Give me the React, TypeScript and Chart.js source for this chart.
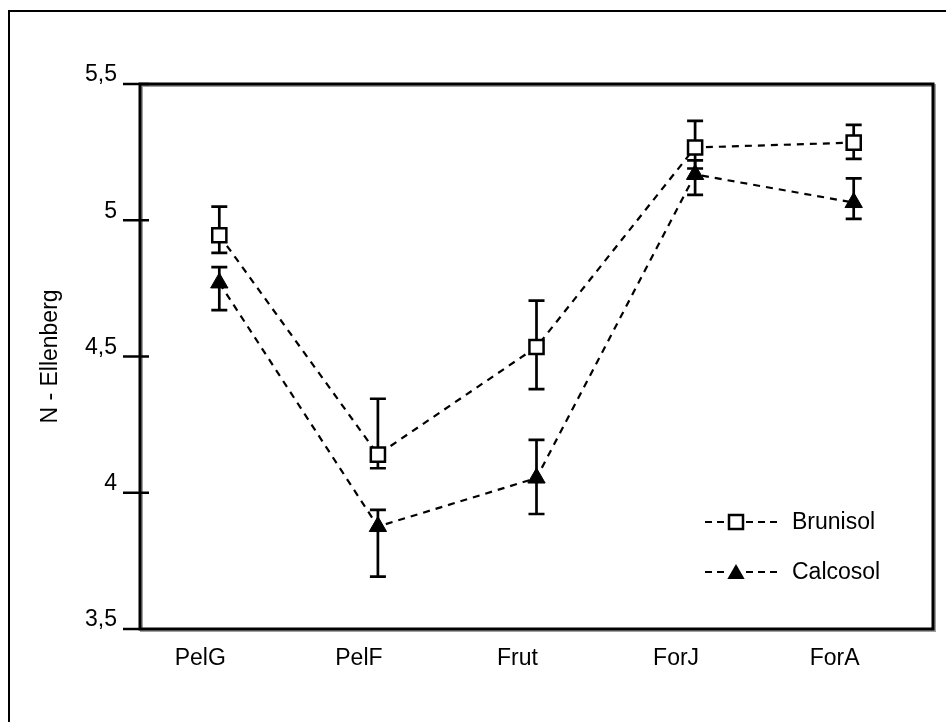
import React, { useEffect, useRef } from 'react';
import { Chart, registerables } from 'chart.js';

Chart.register(...registerables);

const categories = ['PelG', 'PelF', 'Frut', 'ForJ', 'ForA'];
const seriesNames = ['Brunisol', 'Calcosol'];

const brunisolMean = [4.945, 4.14, 4.535, 5.267, 5.285];
const brunisolLow = [4.88, 4.09, 4.38, 5.19, 5.225];
const brunisolHigh = [5.05, 4.345, 4.705, 5.365, 5.35];

const calcosolMean = [4.77, 3.876, 4.054, 5.168, 5.065];
const calcosolLow = [4.67, 3.692, 3.922, 5.093, 5.005];
const calcosolHigh = [4.828, 3.937, 4.194, 5.22, 5.154];

const yTickLabels = ['3,5', '4', '4,5', '5', '5,5'];
const yTitle = 'N - Ellenberg';

const FONT = '"Liberation Sans", Arial, Helvetica, sans-serif';

const errorBars = [
  { low: brunisolLow, high: brunisolHigh },
  { low: calcosolLow, high: calcosolHigh },
];

function drawTriangle(ctx: CanvasRenderingContext2D, x: number, y: number, r: number) {
  ctx.beginPath();
  ctx.moveTo(x, y - r);
  ctx.lineTo(x + Math.sin(Math.PI * 2 / 3) * r, y + r / 2);
  ctx.lineTo(x - Math.sin(Math.PI * 2 / 3) * r, y + r / 2);
  ctx.closePath();
}

const framePlugin = {
  id: 'framePlugin',
  beforeDatasetsDraw(chart: any) {
    const ctx: CanvasRenderingContext2D = chart.ctx;
    const { left, top, right, bottom } = chart.chartArea;
    ctx.save();
    // outer frame
    ctx.strokeStyle = '#000';
    ctx.lineWidth = 2;
    ctx.beginPath();
    ctx.moveTo(9, chart.height);
    ctx.lineTo(9, 11);
    ctx.lineTo(chart.width, 11);
    ctx.stroke();
    // plot box shadow + box
    ctx.strokeStyle = '#a0a0a0';
    ctx.lineWidth = 3;
    ctx.strokeRect(left + 1.5, top + 1.5, right - left, bottom - top);
    ctx.strokeStyle = '#000';
    ctx.strokeRect(left, top, right - left, bottom - top);
    // y ticks
    const ys = chart.scales.y;
    ctx.lineWidth = 2.5;
    ys.ticks.forEach((_t: any, i: number) => {
      const py = ys.getPixelForTick(i);
      ctx.beginPath();
      ctx.moveTo(left - 17, py);
      ctx.lineTo(i === 0 ? left : left + 9, py);
      ctx.stroke();
    });
    // error bars
    const yScale = chart.scales.y;
    ctx.lineWidth = 2.7;
    ctx.setLineDash([]);
    errorBars.forEach((eb, di) => {
      const meta = chart.getDatasetMeta(di);
      meta.data.forEach((pt: any, j: number) => {
        const x = pt.x;
        const yl = yScale.getPixelForValue(eb.low[j]);
        const yh = yScale.getPixelForValue(eb.high[j]);
        ctx.beginPath();
        ctx.moveTo(x, yl);
        ctx.lineTo(x, yh);
        ctx.moveTo(x - 8, yl);
        ctx.lineTo(x + 8, yl);
        ctx.moveTo(x - 8, yh);
        ctx.lineTo(x + 8, yh);
        ctx.stroke();
      });
    });
    ctx.restore();
  },
  afterDatasetsDraw(chart: any) {
    const ctx: CanvasRenderingContext2D = chart.ctx;
    const { right, bottom } = chart.chartArea;
    ctx.save();
    const rows = [bottom - 107, bottom - 57];
    const x0 = right - 228;
    const mx = right - 197;
    const x1 = right - 155;
    const tx = right - 141;
    chart.data.datasets.forEach((ds: any, i: number) => {
      const y = rows[i];
      ctx.strokeStyle = '#000';
      ctx.lineWidth = 2;
      ctx.setLineDash([7, 5]);
      ctx.beginPath();
      ctx.moveTo(x0, y);
      ctx.lineTo(mx - 9, y);
      ctx.stroke();
      ctx.beginPath();
      ctx.moveTo(mx + 10, y);
      ctx.lineTo(x1, y);
      ctx.stroke();
      ctx.setLineDash([]);
      if (i === 0) {
        ctx.fillStyle = '#fff';
        ctx.lineWidth = 2.5;
        ctx.fillRect(mx - 7, y - 7, 14, 14);
        ctx.strokeRect(mx - 7, y - 7, 14, 14);
      } else {
        ctx.fillStyle = '#000';
        drawTriangle(ctx, mx, y + 2, 10);
        ctx.fill();
      }
      ctx.fillStyle = '#000';
      ctx.font = `23px ${FONT}`;
      ctx.textAlign = 'left';
      ctx.textBaseline = 'middle';
      ctx.fillText(ds.label, tx, y + 1);
    });
    ctx.restore();
  },
};

export default function App() {
  const ref = useRef<HTMLCanvasElement | null>(null);
  useEffect(() => {
    if (!ref.current) return;
    const chart = new Chart(ref.current, {
      type: 'line',
      data: {
        labels: categories,
        datasets: [
          {
            label: seriesNames[0],
            data: brunisolMean,
            borderColor: '#000',
            borderWidth: 2.2,
            borderDash: [7, 6],
            pointStyle: 'rect',
            pointRadius: 10,
            pointBackgroundColor: '#fff',
            pointBorderColor: '#000',
            pointBorderWidth: 2.5,
            fill: false,
            tension: 0,
          },
          {
            label: seriesNames[1],
            data: calcosolMean,
            borderColor: '#000',
            borderWidth: 2.2,
            borderDash: [7, 6],
            pointStyle: 'triangle',
            pointRadius: 10,
            pointBackgroundColor: '#000',
            pointBorderColor: '#000',
            pointBorderWidth: 1,
            fill: false,
            tension: 0,
          },
        ],
      },
      options: {
        animation: false,
        responsive: true,
        maintainAspectRatio: false,
        layout: { padding: { top: 84, right: 13, left: 0, bottom: 0 } },
        plugins: {
          legend: { display: false },
          tooltip: { enabled: false },
        },
        scales: {
          x: {
            type: 'category',
            offset: true,
            grid: { display: false, drawTicks: false },
            border: { display: false },
            ticks: {
              color: '#000',
              font: { family: FONT, size: 23 },
              padding: 16,
              labelOffset: -19,
              maxRotation: 0,
              autoSkip: false,
            },
            afterFit: (s: any) => { s.height = 93; },
          },
          y: {
            min: 3.5,
            max: 5.5,
            grid: { display: false, drawTicks: false },
            border: { display: false },
            ticks: {
              stepSize: 0.5,
              color: '#000',
              font: { family: FONT, size: 23 },
              padding: 23,
              labelOffset: -9,
              callback: (_v: any, i: number) => yTickLabels[i],
            },
            title: {
              display: true,
              text: yTitle,
              color: '#000',
              font: { family: FONT, size: 23 },
              padding: { top: 37, bottom: 0 },
            },
            afterFit: (s: any) => { s.width = 140; },
          },
        },
      },
      plugins: [framePlugin],
    });
    return () => chart.destroy();
  }, []);
  return (
    <div style={{ position: 'fixed', left: 0, top: 0, width: 946, height: 722 }}>
      <canvas ref={ref} />
    </div>
  );
}
